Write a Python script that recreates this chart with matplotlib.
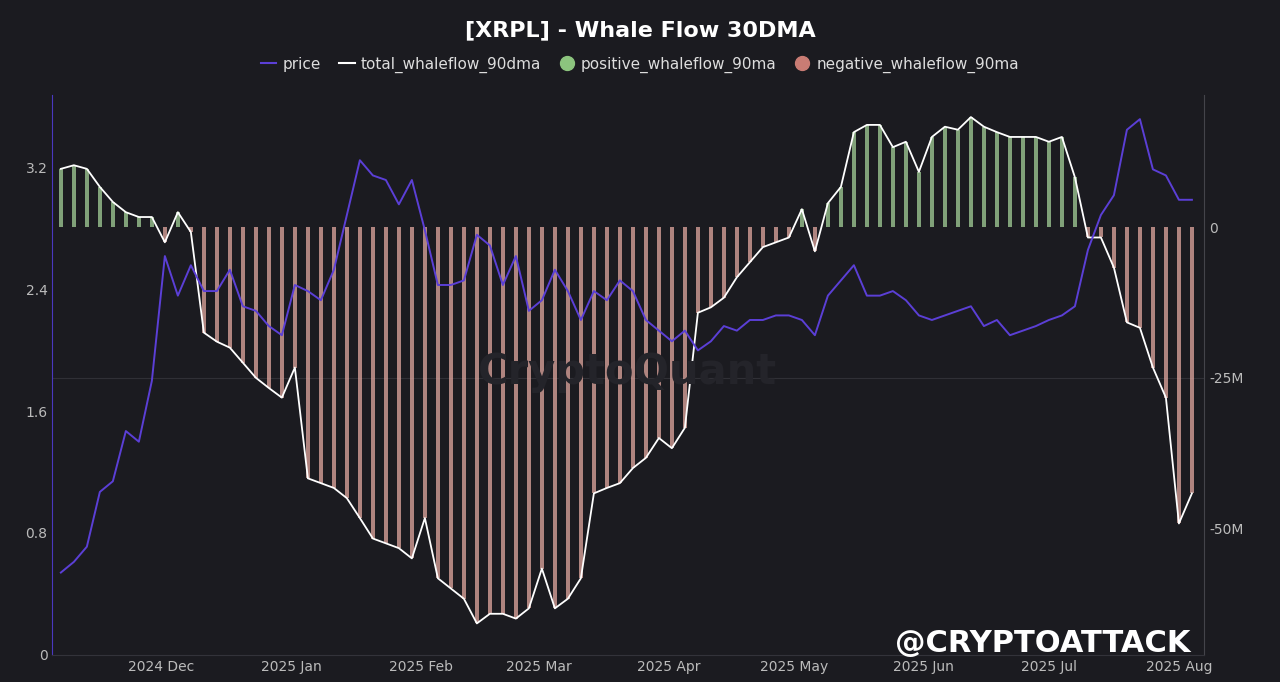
import numpy as np
import pandas as pd
import matplotlib.pyplot as plt
import matplotlib.dates as mdates
from matplotlib.lines import Line2D

# values sampled roughly every 3 days, Nov 2024 - Aug 2025
whaleflow_m = [9.7, 10.3, 9.7, 6.7, 4.2, 2.5, 1.7, 1.7, -2.5, 2.5, -0.8, -17.5,
               -19, -20, -22.5, -25, -26.7, -28.3, -23.3, -41.7, -42.5, -43.3, -45, -48.3,
               -51.7, -52.5, -53.3, -55, -48.3, -58.3, -60, -61.7, -65.8, -64.2, -64.2, -65,
               -63.3, -56.7, -63.3, -61.7, -58.3, -44.2, -43.3, -42.5, -40, -38.3, -35, -36.7,
               -33.3, -14.2, -13.3, -11.7, -8.3, -5.8, -3.3, -2.5, -1.7, 3.0, -4.0, 4.0,
               6.7, 15.8, 17, 17, 13.3, 14.2, 9.2, 15, 16.7, 16.2, 18.3, 16.7,
               15.8, 15, 15, 15, 14.2, 15, 8.3, -1.7, -1.7, -6.7, -15.8, -16.7,
               -23.3, -28.3, -49.2, -44.2]
price = [0.54, 0.61, 0.71, 1.07, 1.14, 1.47, 1.40, 1.80, 2.62, 2.36, 2.56, 2.39,
         2.39, 2.53, 2.29, 2.26, 2.16, 2.10, 2.43, 2.39, 2.33, 2.53, 2.89, 3.25,
         3.15, 3.12, 2.96, 3.12, 2.79, 2.43, 2.43, 2.46, 2.76, 2.69, 2.43, 2.62,
         2.26, 2.33, 2.53, 2.39, 2.20, 2.39, 2.33, 2.46, 2.39, 2.20, 2.13, 2.06,
         2.13, 2.00, 2.06, 2.16, 2.13, 2.20, 2.20, 2.23, 2.23, 2.20, 2.10, 2.36,
         2.46, 2.56, 2.36, 2.36, 2.39, 2.33, 2.23, 2.20, 2.23, 2.26, 2.29, 2.16,
         2.20, 2.10, 2.13, 2.16, 2.20, 2.23, 2.29, 2.66, 2.89, 3.02, 3.45, 3.52,
         3.19, 3.15, 2.99, 2.99]
dates = pd.date_range("2024-11-07", "2025-08-04", periods=len(price))

BG = "#1b1b20"
fig = plt.figure(figsize=(12.8, 6.82), dpi=100, facecolor=BG)
ax = fig.add_axes([0.041, 0.04, 0.90, 0.821], facecolor=BG)
ax2 = ax.twinx()

fig.text(0.49, 0.455, "CryptoQuant", color="#24242a", fontsize=30, ha="center",
         va="center", fontweight="bold", zorder=0)

flow = np.array(whaleflow_m)
cols = np.where(flow >= 0, "#a3cf98", "#e2a8a0")
ax2.bar(dates, flow, width=0.9, color=cols, alpha=0.75, zorder=1)
ax2.plot(dates, flow, color="white", lw=1.3, zorder=3)
ax2.set_ylim(-71, 22)
ax2.set_yticks([0, -25, -50])
ax2.set_yticklabels(["0", "-25M", "-50M"])
ax2.axhline(-25, color="#303036", lw=0.8, zorder=0)

ax.plot(dates, price, color="#5b3fd6", lw=1.4, zorder=5)
ax.set_ylim(0, 3.68)
ax.set_yticks([0, 0.8, 1.6, 2.4, 3.2])
ax.set_yticklabels(["0", "0.8", "1.6", "2.4", "3.2"])
ax.set_zorder(ax2.get_zorder() + 1)
ax.patch.set_visible(False)
ax.set_xlim(pd.Timestamp("2024-11-05"), pd.Timestamp("2025-08-07"))

ticks = pd.to_datetime(["2024-12-01", "2025-01-01", "2025-02-01", "2025-03-01", "2025-04-01",
                        "2025-05-01", "2025-06-01", "2025-07-01", "2025-08-01"])
ax.set_xticks(ticks)
ax.xaxis.set_major_formatter(mdates.DateFormatter("%Y %b"))

for a in (ax, ax2):
    a.tick_params(colors="#bbbbbb", labelsize=10, length=0)
    for s in a.spines.values():
        s.set_visible(False)
ax.spines["left"].set_visible(True)
ax.spines["left"].set_color("#4a38c0")
ax2.spines["right"].set_visible(True)
ax2.spines["right"].set_color("#44444a")
ax.spines["bottom"].set_visible(True)
ax.spines["bottom"].set_color("#33333a")

fig.text(0.5, 0.955, "[XRPL] - Whale Flow 30DMA", ha="center", va="center",
         color="white", fontsize=16, fontweight="bold")
handles = [Line2D([], [], color="#5b3fd6", lw=1.5),
           Line2D([], [], color="white", lw=1.5),
           Line2D([], [], marker="o", ls="", color="#8cc47e", markersize=10),
           Line2D([], [], marker="o", ls="", color="#c97c74", markersize=10)]
fig.legend(handles, ["price", "total_whaleflow_90dma", "positive_whaleflow_90ma",
                     "negative_whaleflow_90ma"], loc="center", bbox_to_anchor=(0.5, 0.905),
           ncol=4, frameon=False, labelcolor="#dddddd", fontsize=11,
           handlelength=1.0, handletextpad=0.4, columnspacing=1.2)

fig.text(0.93, 0.057, "@CRYPTOATTACK", color="white", fontsize=22, ha="right",
         va="center", fontweight="bold")

fig.savefig("out.png", dpi=100, facecolor=BG)
